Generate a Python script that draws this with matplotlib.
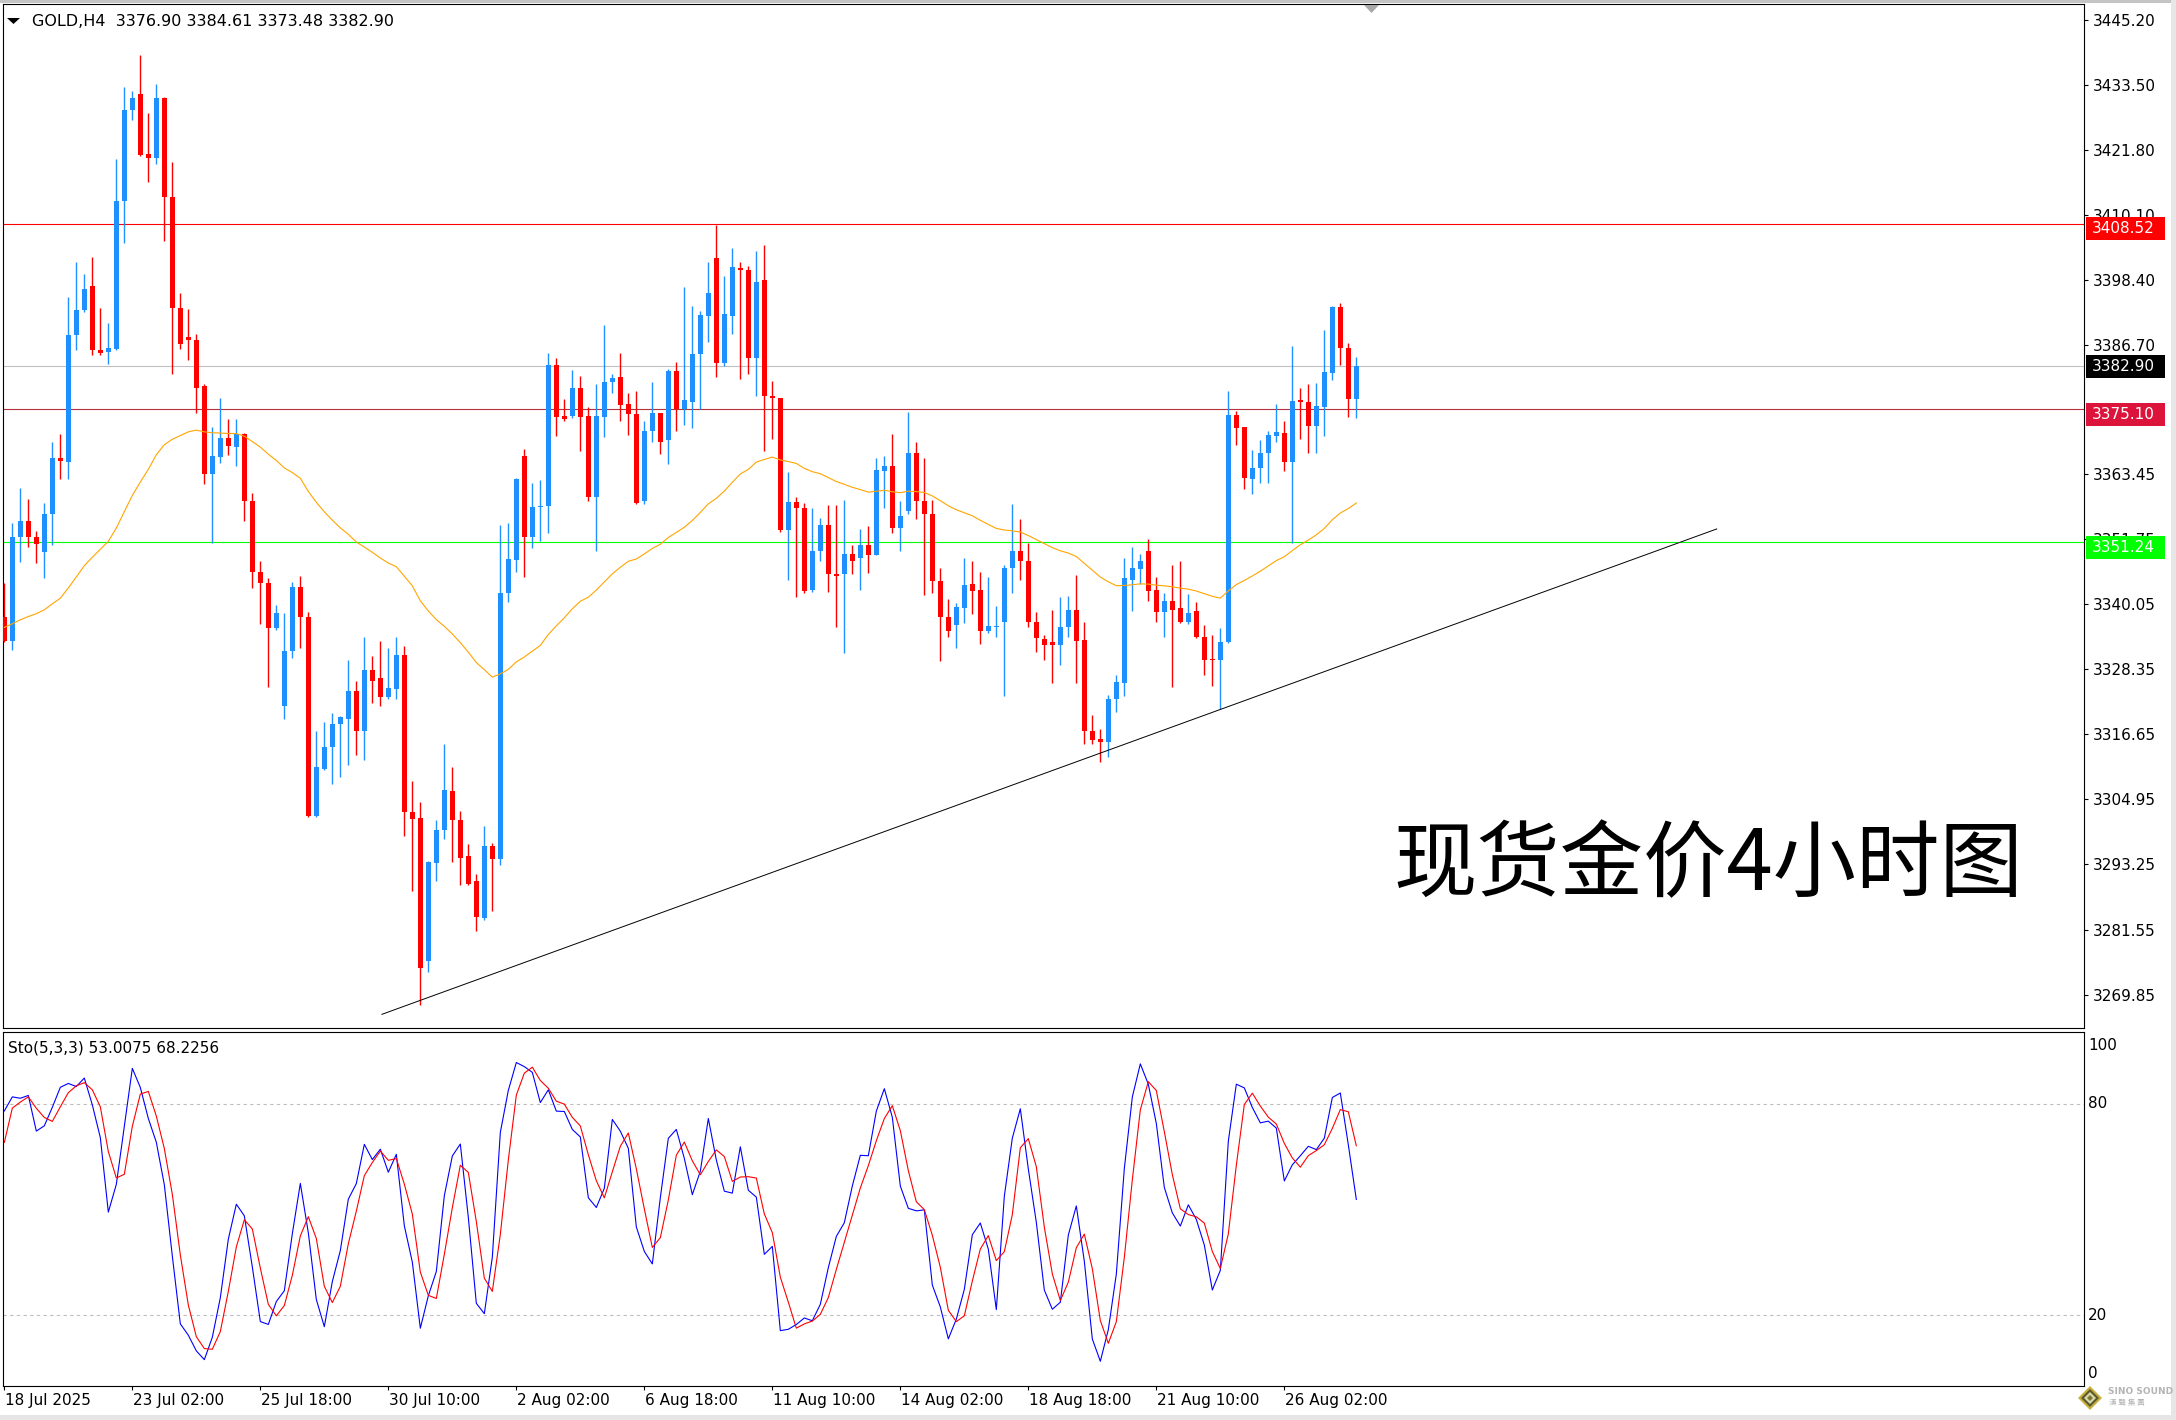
import numpy as np
import matplotlib
matplotlib.use("Agg")
import matplotlib.pyplot as plt
from matplotlib.patches import Rectangle, Polygon
import matplotlib.transforms as mtransforms

W, H, DPI = 2176, 1420, 100

symbol_title = "GOLD,H4  3376.90 3384.61 3373.48 3382.90"
sto_title = "Sto(5,3,3) 53.0075 68.2256"
overlay_title = "现货金价4小时图"

# ---- H4 candles ----
opens = [3337.7, 3333.5, 3352.2, 3355.0, 3352.1, 3349.5, 3356.3, 3366.4, 3365.7, 3388.5,
         3393.0, 3397.3, 3385.8, 3385.4, 3386.0, 3412.5, 3428.9, 3431.8, 3421.1, 3420.3,
         3431.1, 3413.3, 3393.3, 3388.1, 3387.5, 3379.3, 3363.5, 3366.6, 3369.9, 3368.3,
         3370.6, 3358.6, 3345.8, 3343.8, 3335.7, 3321.7, 3331.7, 3343.2, 3337.8, 3302.0,
         3310.5, 3314.4, 3318.6, 3319.5, 3324.4, 3317.3, 3328.2, 3326.8, 3323.3, 3324.9,
         3330.9, 3302.7, 3301.6, 3275.9, 3293.5, 3299.4, 3306.5, 3301.3, 3294.8, 3290.3,
         3283.6, 3296.6, 3294.3, 3342.0, 3348.1, 3366.8, 3352.1, 3357.5, 3357.8, 3383.0,
         3373.9, 3373.9, 3378.9, 3373.9, 3359.3, 3373.8, 3380.0, 3380.9, 3376.1, 3374.3,
         3358.6, 3371.2, 3374.4, 3369.6, 3382.0, 3375.1, 3376.5, 3385.0, 3391.9, 3402.3,
         3383.4, 3391.9, 3400.6, 3400.2, 3384.3, 3398.4, 3377.5, 3377.1, 3353.4, 3358.5,
         3357.4, 3342.6, 3349.6, 3354.4, 3345.5, 3345.5, 3349.1, 3348.3, 3350.7, 3349.0,
         3364.1, 3365.0, 3353.7, 3356.8, 3367.2, 3358.7, 3356.3, 3344.3, 3337.8, 3336.3,
         3339.4, 3343.7, 3342.6, 3335.3, 3336.0, 3336.8, 3346.5, 3349.6, 3347.9, 3336.8,
         3333.8, 3333.2, 3332.7, 3335.9, 3339.1, 3333.6, 3317.3, 3315.9, 3315.2, 3323.1,
         3325.9, 3344.5, 3346.4, 3349.6, 3342.6, 3338.7, 3340.6, 3339.3, 3336.8, 3338.8,
         3334.2, 3330.1, 3330.0, 3333.2, 3374.1, 3371.9, 3362.6, 3364.5, 3367.2, 3370.4,
         3370.9, 3365.7, 3376.8, 3376.4, 3372.2, 3375.6, 3381.7, 3393.6, 3386.1, 3376.90]
highs = [3343.8, 3354.6, 3360.9, 3358.9, 3353.3, 3358.3, 3369.2, 3370.6, 3395.3, 3401.6,
         3399.5, 3402.5, 3393.3, 3390.6, 3420.2, 3433.1, 3432.3, 3438.8, 3428.5, 3433.6,
         3431.3, 3419.6, 3396.0, 3393.2, 3388.7, 3379.6, 3371.9, 3377.1, 3373.4, 3373.4,
         3370.8, 3360.0, 3347.9, 3344.8, 3340.0, 3338.5, 3344.0, 3345.1, 3338.6, 3317.2,
         3318.8, 3320.5, 3319.9, 3330.0, 3326.2, 3334.1, 3330.8, 3333.4, 3332.2, 3334.1,
         3332.6, 3308.2, 3304.5, 3293.8, 3301.3, 3314.9, 3310.7, 3302.8, 3296.9, 3291.6,
         3300.2, 3297.2, 3354.3, 3354.7, 3362.7, 3368.0, 3361.9, 3362.4, 3385.3, 3384.3,
         3377.0, 3382.2, 3381.2, 3375.5, 3379.6, 3390.2, 3381.4, 3385.3, 3378.1, 3378.4,
         3373.1, 3380.1, 3374.5, 3382.3, 3383.7, 3397.1, 3393.7, 3392.8, 3401.6, 3408.2,
         3399.1, 3404.1, 3401.6, 3400.9, 3403.6, 3404.7, 3380.2, 3377.2, 3363.8, 3359.3,
         3358.2, 3357.4, 3355.5, 3357.9, 3357.9, 3358.8, 3350.7, 3353.6, 3354.1, 3366.3,
         3366.8, 3370.6, 3358.6, 3374.7, 3369.2, 3366.3, 3358.8, 3346.6, 3341.0, 3340.2,
         3348.4, 3347.9, 3345.8, 3344.9, 3339.7, 3347.2, 3358.1, 3355.4, 3351.1, 3338.6,
         3334.5, 3339.0, 3341.3, 3341.6, 3345.4, 3336.8, 3320.2, 3317.6, 3323.8, 3327.3,
         3348.4, 3350.3, 3349.1, 3351.8, 3345.0, 3342.0, 3347.1, 3347.9, 3341.9, 3340.5,
         3336.4, 3334.6, 3335.8, 3378.4, 3374.9, 3372.0, 3367.8, 3369.6, 3371.2, 3376.1,
         3373.0, 3386.5, 3378.9, 3379.6, 3379.9, 3389.3, 3393.7, 3394.2, 3387.0, 3384.61]
lows = [3333.3, 3331.8, 3347.7, 3350.4, 3347.4, 3344.8, 3350.7, 3362.5, 3362.5, 3385.8,
        3392.6, 3384.9, 3384.9, 3383.2, 3385.8, 3405.0, 3427.2, 3420.7, 3416.0, 3419.2,
        3405.4, 3381.5, 3385.9, 3384.0, 3374.4, 3361.7, 3351.1, 3365.4, 3366.9, 3365.0,
        3355.0, 3342.9, 3336.5, 3325.1, 3335.5, 3319.4, 3330.3, 3332.2, 3301.8, 3301.8,
        3310.3, 3307.8, 3309.0, 3311.1, 3312.9, 3312.0, 3322.3, 3321.7, 3323.1, 3323.1,
        3298.3, 3288.5, 3268.0, 3273.9, 3290.2, 3297.8, 3293.7, 3289.5, 3289.5, 3281.3,
        3283.2, 3284.9, 3293.1, 3340.4, 3345.9, 3344.9, 3350.1, 3351.5, 3352.8, 3370.4,
        3373.1, 3373.6, 3367.6, 3358.7, 3349.7, 3370.2, 3378.0, 3373.1, 3370.5, 3358.0,
        3358.0, 3369.3, 3367.0, 3365.2, 3371.3, 3372.3, 3371.7, 3375.2, 3387.2, 3380.9,
        3382.9, 3388.6, 3380.6, 3381.4, 3377.6, 3367.6, 3369.8, 3353.1, 3344.4, 3341.3,
        3342.0, 3342.3, 3347.9, 3342.2, 3335.9, 3331.2, 3345.5, 3342.7, 3345.6, 3348.9,
        3357.4, 3352.8, 3349.7, 3356.2, 3355.4, 3341.7, 3342.0, 3329.9, 3334.2, 3332.1,
        3336.7, 3338.3, 3332.9, 3334.9, 3334.2, 3323.5, 3342.0, 3344.4, 3335.9, 3331.5,
        3330.1, 3325.9, 3329.2, 3334.2, 3325.9, 3314.9, 3314.9, 3311.7, 3312.5, 3320.7,
        3323.6, 3338.8, 3343.7, 3340.6, 3336.9, 3334.1, 3325.1, 3336.6, 3336.5, 3333.9,
        3327.3, 3325.4, 3321.2, 3333.0, 3368.7, 3360.7, 3359.8, 3361.8, 3361.9, 3369.2,
        3364.1, 3351.1, 3369.7, 3367.2, 3367.2, 3370.4, 3380.4, 3383.1, 3373.8, 3373.48]
closes = [3333.5, 3352.2, 3355.0, 3352.1, 3350.9, 3356.3, 3366.4, 3365.8, 3388.5, 3393.0,
          3396.8, 3385.8, 3385.2, 3386.1, 3412.6, 3429.0, 3431.1, 3420.9, 3420.3, 3431.1,
          3413.3, 3393.3, 3386.9, 3387.5, 3379.0, 3363.5, 3366.7, 3369.9, 3368.5, 3370.6,
          3358.6, 3345.8, 3343.8, 3335.7, 3338.5, 3331.7, 3343.2, 3337.7, 3302.0, 3310.8,
          3314.4, 3318.6, 3319.7, 3324.4, 3317.3, 3328.2, 3326.3, 3323.3, 3325.0, 3330.9,
          3302.7, 3301.5, 3274.7, 3293.7, 3299.4, 3306.6, 3301.2, 3294.5, 3289.8, 3283.8,
          3296.6, 3294.3, 3342.0, 3348.2, 3362.6, 3352.1, 3357.5, 3357.8, 3383.0, 3373.8,
          3373.3, 3378.9, 3373.8, 3359.3, 3373.9, 3380.1, 3380.8, 3375.9, 3374.2, 3358.3,
          3371.3, 3374.4, 3369.2, 3382.1, 3375.1, 3376.8, 3385.0, 3392.0, 3396.0, 3383.4,
          3392.3, 3400.8, 3400.2, 3384.3, 3398.0, 3377.5, 3377.1, 3353.4, 3358.5, 3357.4,
          3342.4, 3349.6, 3354.4, 3345.5, 3345.2, 3349.1, 3347.9, 3350.7, 3349.0, 3364.2,
          3365.0, 3353.7, 3355.9, 3367.2, 3358.7, 3356.2, 3344.2, 3337.7, 3335.2, 3339.6,
          3343.5, 3342.5, 3335.3, 3336.1, 3336.1, 3346.5, 3349.6, 3347.9, 3336.8, 3333.9,
          3332.8, 3332.8, 3335.9, 3339.1, 3333.5, 3317.3, 3315.6, 3315.2, 3323.1, 3326.1,
          3344.7, 3346.5, 3347.9, 3342.4, 3338.7, 3340.6, 3339.1, 3336.8, 3338.5, 3334.1,
          3330.0, 3330.0, 3333.3, 3374.1, 3371.7, 3362.7, 3364.6, 3367.2, 3370.5, 3371.0,
          3365.6, 3376.7, 3376.5, 3372.2, 3375.7, 3381.9, 3393.6, 3386.1, 3376.9, 3382.90]

# ---- axis / annotation values ----
price_ticks = [3445.20, 3433.50, 3421.80, 3410.10, 3398.40, 3386.70, 3363.45, 3351.75,
               3340.05, 3328.35, 3316.65, 3304.95, 3293.25, 3281.55, 3269.85]
level_prices = [3408.52, 3382.90, 3375.10, 3351.24]
level_line_colors = ["#FF0000", "#C0C0C0", "#B4323C", "#00FF00"]
level_box_colors = ["#FF0000", "#000000", "#DC143C", "#00FF00"]
level_box_shift = [-0.9, 0.0, -0.9, -0.9]
trend_x = [47.2, 214.05]
trend_y = [3266.3, 3353.6]
date_labels = ["18 Jul 2025", "23 Jul 02:00", "25 Jul 18:00", "30 Jul 10:00", "2 Aug 02:00",
               "6 Aug 18:00", "11 Aug 10:00", "14 Aug 02:00", "18 Aug 18:00",
               "21 Aug 10:00", "26 Aug 02:00"]
date_pos = [0, 16, 32, 48, 64, 80, 96, 112, 128, 144, 160]
sto_levels = [80, 20]
sto_axis_labels = ["100", "80", "20", "0"]
sto_k_head = [77.9, 81.9, 81.5, 82.3, 72.2, 73.7]
sto_d_head = [69.0, 78.7]
ma_first = 3335.9
ma_period = 50

UP = "#1E90FF"
DN = "#FF0000"

O = np.array(opens); Hh = np.array(highs); L = np.array(lows); C = np.array(closes)
n = len(C)
x = np.arange(n)

# moving average (exponential, period 50)
alpha = 2.0 / (ma_period + 1)
ma = np.empty(n)
ma[0] = ma_first
for i in range(1, n):
    ma[i] = ma[i - 1] + alpha * (C[i] - ma[i - 1])

# stochastic 5,3,3
hh = np.full(n, np.nan); ll = np.full(n, np.nan)
for j in range(4, n):
    hh[j] = Hh[j - 4:j + 1].max()
    ll[j] = L[j - 4:j + 1].min()
k = np.full(n, np.nan)
for i in range(6, n):
    num = sum(C[j] - ll[j] for j in range(i - 2, i + 1))
    den = sum(hh[j] - ll[j] for j in range(i - 2, i + 1))
    k[i] = 100.0 * num / den
k[:6] = sto_k_head
d = np.full(n, np.nan)
for i in range(2, n):
    d[i] = k[i - 2:i + 1].mean()
d[:2] = sto_d_head

plt.rcParams["font.family"] = ["DejaVu Sans"]
fig = plt.figure(figsize=(W / DPI, H / DPI), dpi=DPI)
fig.patch.set_facecolor("white")
tpx = mtransforms.Affine2D().scale(1.0 / W, -1.0 / H).translate(0, 1) + fig.transFigure


def fr(x0, y0, x1, y1):
    return [x0 / W, 1 - y1 / H, (x1 - x0) / W, (y1 - y0) / H]


ax = fig.add_axes(fr(3, 4, 2084, 1028))
ax2 = fig.add_axes(fr(3, 1032, 2084, 1386))

XL = (-0.166, 259.96)
for a in (ax, ax2):
    a.set_xlim(*XL)
    for s in a.spines.values():
        s.set_color("black")
        s.set_linewidth(0.8)
ax.set_ylim(3263.84, 3448.02)
ax2.set_ylim(-0.03, 100.28)

# horizontal levels
for p, col in zip(level_prices, level_line_colors):
    ax.axhline(p, color=col, lw=0.8, zorder=1)

# candles
cols = np.where(C >= O, UP, DN)
ax.vlines(x, L, Hh, colors=cols, lw=1.0, zorder=3)
body_lo = np.minimum(O, C)
body_h = np.maximum(np.abs(C - O), 0.22)
ax.bar(x, body_h, bottom=body_lo, width=0.62, color=cols, edgecolor="none", zorder=4)

# moving average
ax.plot(x, ma, color="#FFA500", lw=0.8, zorder=5)

# trend line
ax.plot(trend_x, trend_y, color="black", lw=0.7, zorder=5)

ax.set_xticks([])
ax.yaxis.tick_right()
ax.set_yticks(price_ticks)
ax.set_yticklabels([f"{v:.2f}" for v in price_ticks])
ax.tick_params(axis="y", length=3, width=0.8, pad=3.5, labelsize=11, colors="black")

# level boxes (on top of tick labels)
bt = mtransforms.blended_transform_factory(ax.transAxes, ax.transData)
bx0 = (2086 - 3) / 2081.0
bw = (2165 - 2086) / 2081.0
tx0 = (2092 - 3) / 2081.0
for p, col, sh in zip(level_prices, level_box_colors, level_box_shift):
    cy = p + sh
    fig.add_artist(Rectangle((bx0, cy - 2.07), bw, 4.14, transform=bt, facecolor=col,
                             edgecolor="none", zorder=6, clip_on=False))
    fig.add_artist(plt.Text(tx0, cy, f"{p:.2f}", transform=bt, color="white", fontsize=11,
                            va="center", ha="left", zorder=7))

# stochastic panel
for lv in sto_levels:
    ax2.axhline(lv, color="#BEBEBE", lw=0.8, ls=(0, (3, 3)), zorder=1)
ax2.plot(x, k, color="#0000FF", lw=0.8, zorder=3)
ax2.plot(x, d, color="#FF0000", lw=0.8, zorder=3)
ax2.set_yticks([])
ax2.set_xticks(date_pos)
ax2.set_xticklabels([])
ax2.tick_params(axis="x", length=3, width=0.8, direction="out", colors="black")

for lab, yy in zip(sto_axis_labels, [1045, 1104, 1315, 1373]):
    fig.text(2088, yy, lab, transform=tpx, fontsize=11, va="center", ha="left")

for lab, pos in zip(date_labels, date_pos):
    fig.text(4.33 + 8 * pos + 1, 1401, lab, transform=tpx, fontsize=11, va="center", ha="left")

# titles
fig.text(32, 21.5, symbol_title, transform=tpx, fontsize=11.5, va="center", ha="left")
fig.add_artist(Polygon([(7, 18), (20, 18), (13.5, 24)], closed=True, transform=tpx,
                       facecolor="black", edgecolor="none"))
fig.text(8, 1048, sto_title, transform=tpx, fontsize=11, va="center", ha="left")
fig.text(1708, 866, overlay_title, transform=tpx, fontsize=60, va="center", ha="center",
         family=["Noto Sans CJK SC", "DejaVu Sans"], color="black")

# shift marker at top
fig.add_artist(Polygon([(1364, 5), (1379, 5), (1371.5, 13)], closed=True, transform=tpx,
                       facecolor="#A8A8A8", edgecolor="none", zorder=8))

# window frame
fig.add_artist(Rectangle((0, 0), W, 3, transform=tpx, facecolor="#C4C4C4", edgecolor="none"))
fig.add_artist(Rectangle((2171, 0), 5, H, transform=tpx, facecolor="#E6E6E6", edgecolor="none"))
fig.add_artist(Rectangle((0, 1415), W, 5, transform=tpx, facecolor="#E6E6E6", edgecolor="none"))

# logo
for half, col in [(12, "#C8B040"), (9, "#5A5A2A"), (6, "#D8D8B0"), (3, "#7A7A30")]:
    fig.add_artist(Polygon([(2090, 1398 - half), (2090 + half, 1398), (2090, 1398 + half),
                            (2090 - half, 1398)], closed=True, transform=tpx,
                           facecolor=col, edgecolor="none", zorder=8))
fig.text(2108, 1392, "SINO SOUND", transform=tpx, fontsize=6.5, fontweight="bold",
         color="#B4B4B4", va="center", ha="left")
fig.text(2109, 1403.5, "漢 聲 集 團", transform=tpx, fontsize=5.5, color="#B4B4B4",
         va="center", ha="left", family=["Noto Sans CJK TC", "DejaVu Sans"])

fig.savefig("out.png", dpi=DPI)
